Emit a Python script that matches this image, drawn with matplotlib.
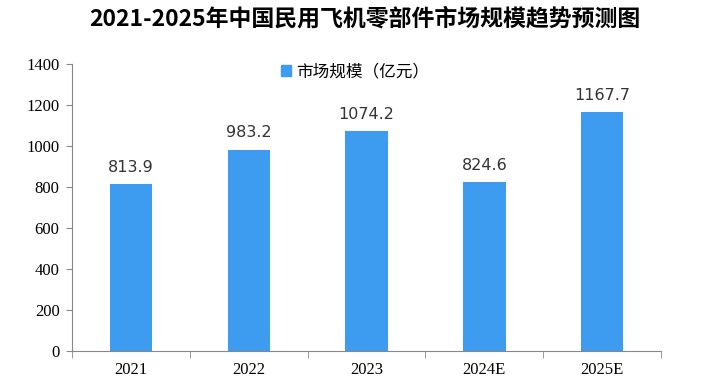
import matplotlib.pyplot as plt
from matplotlib.patches import Patch

plt.rcParams['font.family'] = ['Liberation Serif', 'Noto Sans CJK SC', 'DejaVu Sans']

years = ["2021", "2022", "2023", "2024E", "2025E"]
market_size = [813.9, 983.2, 1074.2, 824.6, 1167.7]

BAR_COLOR = "#3d9bf0"
AXIS_COLOR = "#888888"


def main():
    fig = plt.figure(figsize=(7.02, 3.84), dpi=100)
    ax = fig.add_axes([0.1026, 0.0859, 0.839, 0.747])

    x = list(range(len(years)))
    bars = ax.bar(x, market_size, width=0.36, color=BAR_COLOR, zorder=2)
    for rect, val in zip(bars, market_size):
        ax.text(rect.get_x() + rect.get_width() / 2, val + 45, f"{val:.1f}",
                ha="center", va="bottom", fontsize=11.5, color="#333333",
                family=["DejaVu Sans"])

    ax.set_xlim(-0.5, len(years) - 0.5)
    ax.set_ylim(0, 1400)
    ax.set_yticks(range(0, 1401, 200))
    ax.set_xticks(x)
    ax.set_xticklabels(years, fontsize=12)
    ax.tick_params(axis="y", labelsize=12, length=4, color=AXIS_COLOR, pad=5)
    ax.tick_params(axis="x", length=0, pad=8)
    # category boundary ticks on x axis
    ax.set_xticks([i - 0.5 for i in range(len(years) + 1)], minor=True)
    ax.tick_params(axis="x", which="minor", length=5, color=AXIS_COLOR,
                   direction="out")

    for side in ("top", "right"):
        ax.spines[side].set_visible(False)
    for side in ("left", "bottom"):
        ax.spines[side].set_color(AXIS_COLOR)

    ax.legend(handles=[Patch(color=BAR_COLOR, label="市场规模（亿元）")],
              loc="upper center", bbox_to_anchor=(0.48, 1.055), frameon=False,
              prop={"family": ["Noto Sans CJK SC"], "size": 12},
              handlelength=0.6, handleheight=0.6, handletextpad=0.3)

    fig.suptitle("2021-2025年中国民用飞机零部件市场规模趋势预测图",
                 x=0.52, y=0.98, fontsize=16.5, fontweight="bold",
                 family=["Noto Sans CJK SC"])

    fig.savefig("out.png", dpi=100)


if __name__ == "__main__":
    main()
